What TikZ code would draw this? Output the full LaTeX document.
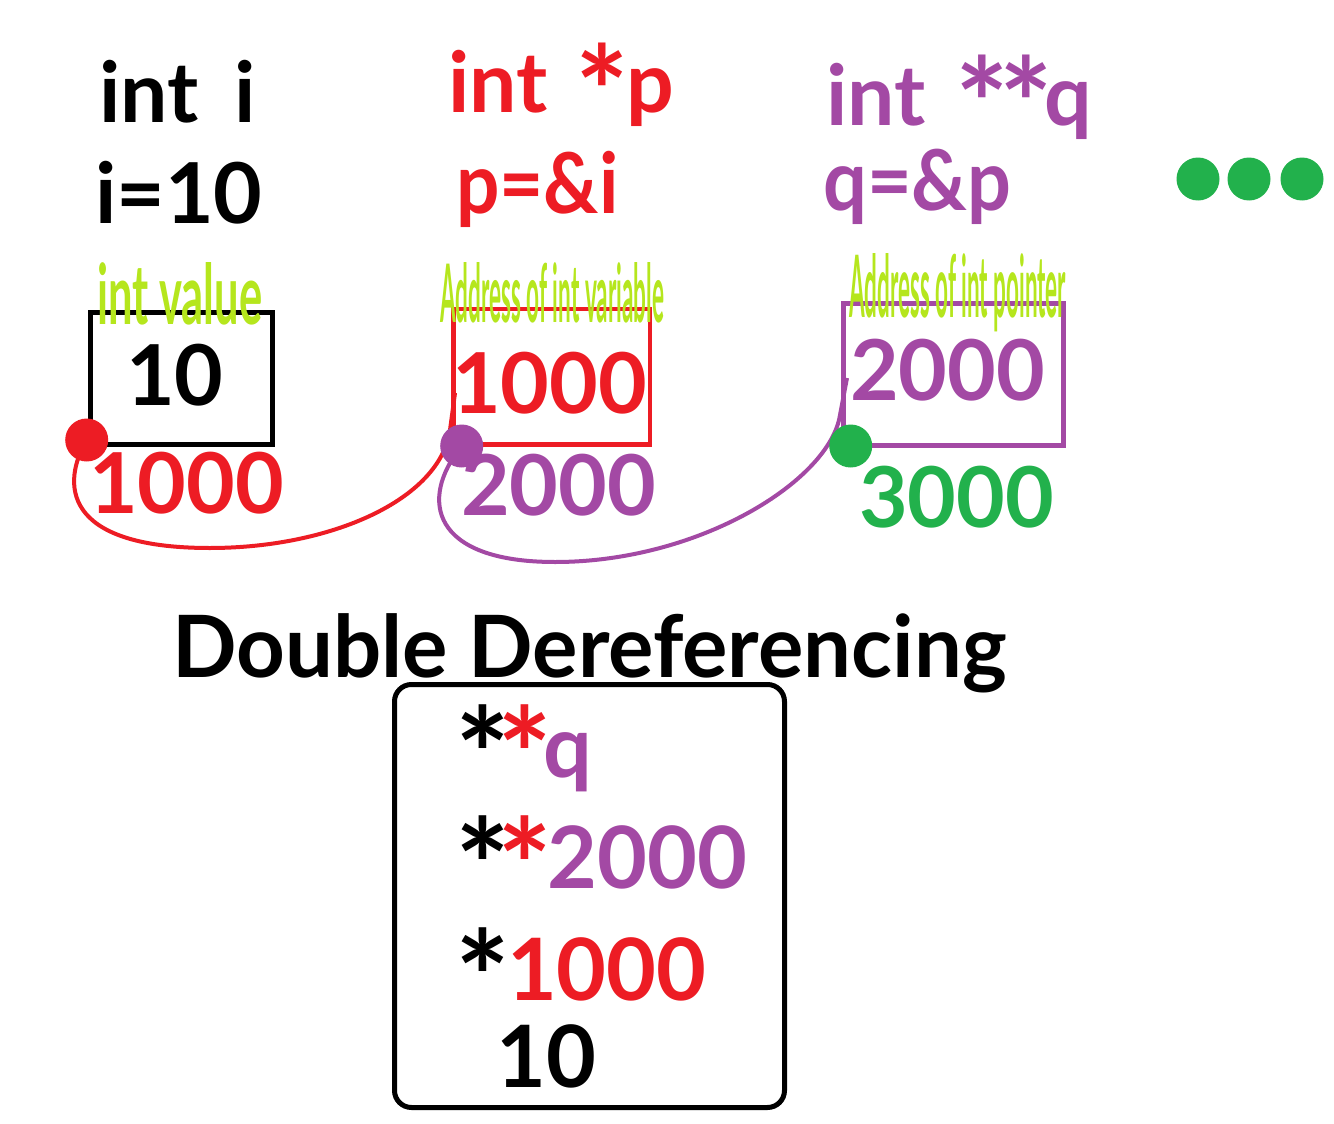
\documentclass[tikz,border=0pt]{standalone}
\usepackage{fontspec}
\setmainfont{Lato}
\usepackage{graphicx}
\definecolor{cred}{HTML}{ED1C24}
\definecolor{cpur}{HTML}{A349A4}
\definecolor{cgrn}{HTML}{22B14C}
\definecolor{cyel}{HTML}{B5E61D}
\newcommand\Ast{\raisebox{-0.3em}[0.76em][0pt]{\scalebox{1.5}{*}}}
\begin{document}
\begin{tikzpicture}[x=1pt,y=-1pt,
  txt/.style={inner sep=0pt, anchor=base west, font=\fontsize{84}{84}\selectfont\bfseries},
  big/.style={inner sep=0pt, anchor=base west, font=\fontsize{86}{86}\selectfont\bfseries},
  lbl/.style={inner sep=0pt, anchor=base west, text=cyel, font=\bfseries},
  cell/.style={draw, line width=5pt, inner sep=0pt},
  dotc/.style={circle, inner sep=0pt, minimum size=43pt},
  link/.style={line width=4pt}]
\useasboundingbox (0,0) rectangle (1334,1124);
\fill[white] (0,0) rectangle (1334,1124);

% declarations
\node[txt] (inti) at (99,122) {int\hspace{36pt}i};
\node[txt] (iset) at (95,223) {i=10};
\node[txt,text=cred] (intp) at (448,113) {int\hspace{28pt}\Ast\hspace{-3pt}p};
\node[txt,text=cred] (pset) at (456,213) {\scalebox{0.91}[1]{p=\&i}};
\node[txt,text=cpur] (intq) at (826,125) {int\hspace{30pt}\Ast\hspace{-10pt}\Ast\hspace{-8pt}q};
\node[txt,text=cpur] (qset) at (823,210) {\scalebox{0.92}[1]{q=\&p}};

% ellipsis dots
\node[dotc,fill=cgrn] (e1) at (1198,179) {};
\node[dotc,fill=cgrn] (e2) at (1249,179) {};
\node[dotc,fill=cgrn] (e3) at (1302,179) {};

% memory cells
\node[cell,draw=black,minimum width=182pt,minimum height=132.5pt] (box1) at (181.5,378.25) {};
\node[cell,draw=cred,line width=4.5pt,minimum width=196.5pt,minimum height=135.5pt] (box2) at (551.75,376.75) {};
\node[cell,draw=cpur,line width=4.5pt,minimum width=220pt,minimum height=142pt] (box3) at (953.5,374.5) {};

\node[txt] (v10) at (126,405) {10};
\node[txt,text=cred] (v1000) at (452,413) {1000};
\node[txt,text=cpur] (v2000) at (850,400) {2000};

\node[txt,text=cred] (a1000) at (89,513) {1000};
\node[txt,text=cpur] (a2000) at (461,515) {2000};
\node[txt,text=cgrn] (a3000) at (859,527) {3000};

% connectors
\coordinate (rend) at (455,393);
\coordinate (pend) at (847,378);
\node[dotc] (rdot) at (86.7,440) {};
\node[dotc] (pdot) at (461.7,446) {};
\node[dotc] (gdot) at (850.7,446) {};
\draw[link,cred] (rdot.center) .. controls (62,482) and (60,548) .. (210,548)
  .. controls (330,548) and (440,500) .. (450,430) -- (rend);
\draw[link,cpur] (pdot.center) .. controls (418,500) and (432,562) .. (555,562)
  .. controls (700,562) and (830,480) .. (840,415) -- (pend);
\fill[cred] (rdot) circle (21.5pt);
\fill[cpur] (pdot) circle (21.5pt);
\fill[cgrn] (gdot) circle (21.5pt);

% captions
\node[lbl] (lv) at (97,324) {\resizebox{165pt}{62pt}{int value}};
\node[lbl] (la) at (440,322) {\resizebox{224pt}{60pt}{Address of int variable}};
\node[lbl] (lp) at (849,317) {\resizebox{217pt}{64pt}{Address of int pointer}};

% double dereferencing
\node[big] (title) at (172,677) {\scalebox{0.988}[1]{Double Dereferencing}};
\node[draw,line width=5pt,rounded corners=17pt,inner sep=0pt,minimum width=390pt,minimum height=423pt] (res) at (589.5,896) {};
\node[big] (l1) at (455,777) {\Ast\hspace{-13pt}{\color{cred}\Ast}\hspace{-8pt}{\color{cpur}q}};
\node[big] (l2) at (455,888) {\Ast\hspace{-13pt}{\color{cred}\Ast}\hspace{-4pt}{\color{cpur}2000}};
\node[big] (l3) at (455,1000) {\Ast\hspace{-3pt}{\color{cred}1000}};
\node[big] (l4) at (496,1087) {10};
\end{tikzpicture}
\end{document}
